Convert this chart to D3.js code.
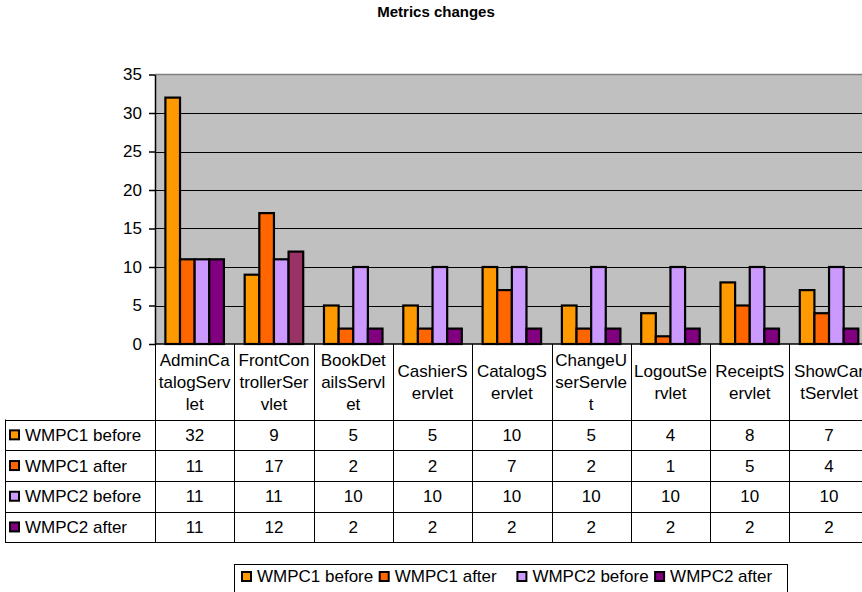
<!DOCTYPE html>
<html>
<head>
<meta charset="utf-8">
<script src="https://cdn.jsdelivr.net/npm/d3@7"></script>
<style>
  html, body { margin: 0; padding: 0; background: #fff; overflow: hidden; }
  svg { display: block; font-family: "Liberation Sans", Arial, sans-serif; }
</style>
</head>
<body>
<svg id="chart" width="862" height="592"></svg>
<script>
// ---- data ----
const categories = [
  "AdminCatalogServlet", "FrontControllerServlet", "BookDetailsServlet",
  "CashierServlet", "CatalogServlet", "ChangeUserServlet",
  "LogoutServlet", "ReceiptServlet", "ShowCartServlet"
];
// category names as they wrap inside the data-table header cells
const categoryLines = [
  ["AdminCa", "talogServ", "let"],
  ["FrontCon", "trollerSer", "vlet"],
  ["BookDet", "ailsServl", "et"],
  ["CashierS", "ervlet"],
  ["CatalogS", "ervlet"],
  ["ChangeU", "serServle", "t"],
  ["LogoutSe", "rvlet"],
  ["ReceiptS", "ervlet"],
  ["ShowCar", "tServlet"]
];
const seriesNames = ["WMPC1 before", "WMPC1 after", "WMPC2 before", "WMPC2 after"];
const wmpc1Before = [32, 9, 5, 5, 10, 5, 4, 8, 7];
const wmpc1After  = [11, 17, 2, 2, 7, 2, 1, 5, 4];
const wmpc2Before = [11, 11, 10, 10, 10, 10, 10, 10, 10];
const wmpc2After  = [11, 12, 2, 2, 2, 2, 2, 2, 2];
const seriesValues = [wmpc1Before, wmpc1After, wmpc2Before, wmpc2After];
const seriesColors = ["#FF9900", "#FF6600", "#CC99FF", "#800080"];
// single data point with its own fill
const pointColorOverrides = { "FrontControllerServlet|WMPC2 after": "#993366" };
const yTicks = [0, 5, 10, 15, 20, 25, 30, 35];
const chartTitle = "Metrics changes";

// ---- layout ----
const svg = d3.select("#chart");
const FONT = 17;
const plotLeft = 155, plotTop = 74.5, plotBottom = 344;
const catWidth = 79.3;
const plotRight = plotLeft + catWidth * categories.length;

const x = d3.scaleBand().domain(categories).range([plotLeft, plotRight]).padding(0);
const inner = d3.scaleBand().domain(seriesNames)
  .range([catWidth * 0.131, catWidth * 0.869]).padding(0);
const y = d3.scaleLinear().domain([0, 35]).range([plotBottom, plotTop]);

// title
svg.append("text")
  .attr("x", 436).attr("y", 17)
  .attr("text-anchor", "middle")
  .attr("font-size", 15).attr("font-weight", "bold")
  .text(chartTitle);

// plot area
svg.append("rect")
  .attr("x", plotLeft).attr("y", plotTop)
  .attr("width", plotRight - plotLeft).attr("height", plotBottom - plotTop)
  .attr("fill", "#C0C0C0");

// gridlines
svg.append("g").selectAll("line")
  .data(yTicks.filter(t => t > 0 && t < 35))
  .join("line")
  .attr("x1", plotLeft).attr("x2", plotRight)
  .attr("y1", d => Math.round(y(d)) + 0.5).attr("y2", d => Math.round(y(d)) + 0.5)
  .attr("stroke", "#000").attr("stroke-width", 1);

// top border of plot area
svg.append("line")
  .attr("x1", plotLeft).attr("x2", plotRight)
  .attr("y1", y(35)).attr("y2", y(35))
  .attr("stroke", "#808080").attr("stroke-width", 1.5);

// bars
const barData = [];
categories.forEach((c, ci) => {
  seriesNames.forEach((s, si) => {
    barData.push({
      cat: c, series: s, value: seriesValues[si][ci],
      color: pointColorOverrides[c + "|" + s] || seriesColors[si]
    });
  });
});
svg.append("g").selectAll("rect")
  .data(barData)
  .join("rect")
  .attr("x", d => x(d.cat) + inner(d.series))
  .attr("y", d => y(d.value))
  .attr("width", inner.bandwidth())
  .attr("height", d => y(0) - y(d.value))
  .attr("fill", d => d.color)
  .attr("stroke", "#000").attr("stroke-width", 2.2);

// y axis
const yAxis = svg.append("g")
  .attr("transform", `translate(${plotLeft},0)`)
  .call(d3.axisLeft(y).tickValues(yTicks).tickSize(6).tickSizeOuter(0).tickPadding(7));
yAxis.select(".domain").attr("stroke", "#000").attr("stroke-width", 1.5);
yAxis.selectAll(".tick line").attr("stroke", "#000").attr("stroke-width", 1.5);
yAxis.selectAll(".tick text")
  .attr("font-size", FONT).attr("font-family", "Liberation Sans, Arial, sans-serif")
  .attr("fill", "#000");

// category axis line
svg.append("line")
  .attr("x1", plotLeft).attr("x2", plotRight)
  .attr("y1", plotBottom).attr("y2", plotBottom)
  .attr("stroke", "#000").attr("stroke-width", 1.5);

// ---- data table ----
const tableLeft = 5;
const headerBottom = 419.5;
const rowH = 30.7;
const tableBottom = headerBottom + rowH * seriesNames.length;
const table = svg.append("g");

// header cell separators (category boundaries)
const bounds = categories.map(c => x(c)).concat([plotRight]);
table.selectAll("line.vsep")
  .data(bounds)
  .join("line")
  .attr("class", "vsep")
  .attr("x1", d => Math.round(d) + 0.5).attr("x2", d => Math.round(d) + 0.5)
  .attr("y1", plotBottom).attr("y2", tableBottom)
  .attr("stroke", "#000").attr("stroke-width", 1);

// left border of legend column
table.append("line")
  .attr("x1", tableLeft + 0.5).attr("x2", tableLeft + 0.5)
  .attr("y1", headerBottom).attr("y2", tableBottom)
  .attr("stroke", "#000");

// row lines
const rowEdges = d3.range(seriesNames.length + 1).map(i => headerBottom + i * rowH);
table.selectAll("line.hsep")
  .data(rowEdges)
  .join("line")
  .attr("class", "hsep")
  .attr("x1", tableLeft).attr("x2", plotRight)
  .attr("y1", d => Math.round(d) + 0.5).attr("y2", d => Math.round(d) + 0.5)
  .attr("stroke", "#000");

// header labels
const headerMid = (plotBottom + headerBottom) / 2;
const lineGap = 22;
categories.forEach((c, ci) => {
  const lines = categoryLines[ci];
  const t = table.append("text")
    .attr("text-anchor", "middle")
    .attr("font-size", FONT);
  lines.forEach((ln, li) => {
    const cy = headerMid + (li - (lines.length - 1) / 2) * lineGap;
    t.append("tspan")
      .attr("x", x(c) + catWidth / 2)
      .attr("y", cy)
      .attr("dy", "0.35em")
      .text(ln);
  });
});

// table rows: legend key + name + values
seriesNames.forEach((s, si) => {
  const cy = headerBottom + si * rowH + rowH / 2;
  table.append("rect")
    .attr("x", 10).attr("y", cy - 4.5)
    .attr("width", 9).attr("height", 9)
    .attr("fill", seriesColors[si])
    .attr("stroke", "#000").attr("stroke-width", 2);
  table.append("text")
    .attr("x", 25).attr("y", cy).attr("dy", "0.35em")
    .attr("font-size", FONT)
    .text(s);
  table.selectAll(null)
    .data(seriesValues[si])
    .join("text")
    .attr("x", (d, ci) => x(categories[ci]) + catWidth / 2)
    .attr("y", cy).attr("dy", "0.35em")
    .attr("text-anchor", "middle")
    .attr("font-size", FONT)
    .text(d => d);
});

// ---- legend ----
const legend = svg.append("g");
legend.append("rect")
  .attr("x", 234.5).attr("y", 564.5)
  .attr("width", 553).attr("height", 40)
  .attr("fill", "#fff").attr("stroke", "#000").attr("stroke-width", 1);
const legendStep = 137.7;
seriesNames.forEach((s, si) => {
  const lx = 242 + si * legendStep;
  const cy = 576.5;
  legend.append("rect")
    .attr("x", lx).attr("y", cy - 4.5)
    .attr("width", 9).attr("height", 9)
    .attr("fill", seriesColors[si])
    .attr("stroke", "#000").attr("stroke-width", 2);
  legend.append("text")
    .attr("x", lx + 15).attr("y", cy).attr("dy", "0.35em")
    .attr("font-size", FONT)
    .text(s);
});
</script>
</body>
</html>
